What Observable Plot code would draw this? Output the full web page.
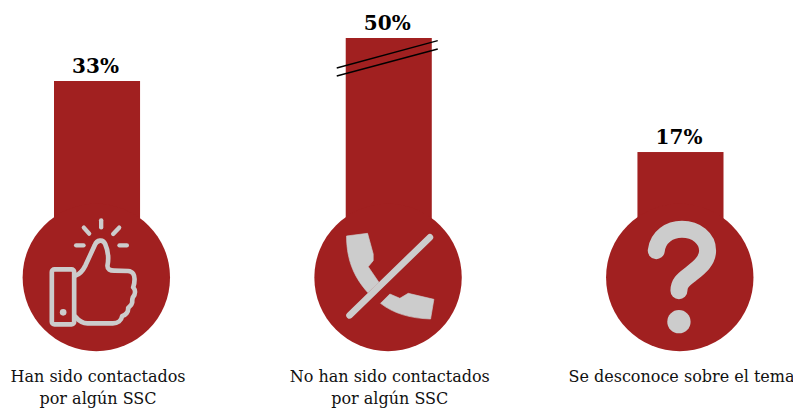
<!DOCTYPE html>
<html lang="es">
<head>
<meta charset="utf-8">
<script src="https://cdn.jsdelivr.net/npm/d3@7"></script>
<script src="https://cdn.jsdelivr.net/npm/@observablehq/plot@0.6"></script>
<style>
  html, body { margin: 0; padding: 0; background: #fff; overflow: hidden; }
  svg { display: block; }
</style>
</head>
<body>
<div id="chart"></div>
<script>
// Encuesta: contacto con los SSC
const categories = [
  "Han sido contactados\npor algún SSC",
  "No han sido contactados\npor algún SSC",
  "Se desconoce sobre el tema"
];
const shares = [33, 50, 17];
const shareLabels = ["33%", "50%", "17%"];
const iconNames = ["thumb", "phone", "question"];

const rows = categories.map((category, i) => ({
  category,
  share: shares[i],
  shareLabel: shareLabels[i],
  icon: iconNames[i]
}));

const RED = "#a12020";
const GREY = "#cccccc";
const SERIF = "'DejaVu Serif', serif";

// Glyphs are authored on a 3x grid around the origin (the disc centre).
const glyphs = {
  thumb: {
    origin: [287, 261],
    parts: [
      {rect: [155, 238, 67, 165], rx: 8, stroke: 14},
      {circle: [189, 367, 10]},
      {d: "M226,257 C240,252 248,242 256,226 L284,165 C290,150 308,146 315,162 C324,182 326,205 322,226 C321,238 330,242 342,242 L384,243 C398,244 404,256 403,270 C403,282 400,288 399,292 C406,300 407,312 398,322 C396,326 396,332 396,338 C394,348 386,350 384,354 C385,366 376,376 366,378 C364,392 352,400 338,400 L262,400 C248,400 236,392 226,380", stroke: 14},
      {d: "M228,166 L250,166", stroke: 13},
      {d: "M251,113 L267,131", stroke: 13},
      {d: "M303,91 L303,112", stroke: 13},
      {d: "M339,132 L357,113", stroke: 13},
      {d: "M358,166 L380,166", stroke: 13}
    ]
  },
  phone: {
    origin: [263, 231],
    parts: [
      {fill: "M140,108 L203,100 L220,162 L220,182 L205,200 L237,247 L204,278 C170,240 140,190 140,108 Z"},
      {fill: "M242,310 L270,282 L300,295 L325,280 L402,298 L392,357 C330,355 280,340 242,310 Z"},
      {d: "M149,346 L390,112", stroke: 20}
    ]
  },
  question: {
    origin: [269, 471],
    parts: [
      {d: "M200,392 C205,350 240,328 277,328 C320,328 354,355 354,392 C354,425 325,445 300,465 C280,480 268,490 268,512", stroke: 51},
      {circle: [268, 605, 35]}
    ]
  }
};

// Custom mark: puts each glyph on its disc, positioned through the plot's scales.
function iconMark(discOffset) {
  return (index, {x, y}) => {
    const g = d3.create("svg:g");
    rows.forEach((row) => {
      const glyph = glyphs[row.icon];
      const cx = x(row.category) + x.bandwidth() / 2 - 1.2;
      const cy = y(0) + discOffset;
      const group = g.append("g")
        .attr("transform", `translate(${cx},${cy}) scale(${1 / 3}) translate(${-glyph.origin[0]},${-glyph.origin[1]})`);
      glyph.parts.forEach((part) => {
        if (part.rect) {
          const [rx0, ry0, w, h] = part.rect;
          group.append("rect").attr("x", rx0).attr("y", ry0).attr("width", w).attr("height", h)
            .attr("rx", part.rx).attr("fill", "none").attr("stroke", GREY).attr("stroke-width", part.stroke);
        } else if (part.circle) {
          const [c0, c1, r] = part.circle;
          group.append("circle").attr("cx", c0).attr("cy", c1).attr("r", r).attr("fill", GREY);
        } else if (part.fill) {
          group.append("path").attr("d", part.fill).attr("fill", GREY).attr("stroke", GREY)
            .attr("stroke-width", 2).attr("stroke-linejoin", "round");
        } else {
          group.append("path").attr("d", part.d).attr("fill", "none").attr("stroke", GREY)
            .attr("stroke-width", part.stroke).attr("stroke-linecap", "round").attr("stroke-linejoin", "round");
        }
      });
    });
    return g.node();
  };
}

// Double slash on the tallest column, marking its interrupted axis.
function breakMark() {
  return (index, {x, y}) => {
    const g = d3.create("svg:g");
    const tallest = rows.find((r) => r.share === d3.max(shares));
    const cx = x(tallest.category) + x.bandwidth() / 2;
    const top = y(tallest.share);
    [[30, 2.6], [38, 11]].forEach(([left, right]) => {
      g.append("line")
        .attr("x1", cx - 52).attr("y1", top + left)
        .attr("x2", cx + 49).attr("y2", top + right)
        .attr("stroke", "#000").attr("stroke-width", 1.3);
    });
    return g.node();
  };
}

const DISC_OFFSET = 49.5;

const chart = Plot.plot({
  width: 793,
  height: 410,
  margin: 0,
  style: {background: "#fff", overflow: "visible"},
  x: {
    type: "band",
    domain: categories,
    range: [54, 723.5],
    round: false,
    paddingInner: 0.705,
    paddingOuter: 0,
    axis: null
  },
  // The scale is compressed above 33 to reflect the broken column.
  y: {
    type: "linear",
    domain: [0, 33, 50],
    range: [227.5, 81, 38],
    axis: null
  },
  marks: [
    Plot.barY(rows, {x: "category", y: "share", fill: RED}),
    Plot.dot(rows, {x: "category", y: () => 0, r: 73.7, fill: RED, dy: DISC_OFFSET, dx: -1.2}),
    iconMark(DISC_OFFSET),
    breakMark(),
    Plot.text(rows, {
      x: "category", y: "share", text: "shareLabel",
      dy: -9, dx: -2, lineAnchor: "bottom",
      fontFamily: SERIF, fontWeight: 700, fontSize: 20, fill: "#000"
    }),
    Plot.text(rows, {
      x: "category", y: () => 0, text: "category",
      dy: 138, dx: 0.5, lineAnchor: "top", lineHeight: 1.4,
      fontFamily: SERIF, fontSize: 16, fill: "#111"
    })
  ]
});

document.getElementById("chart").append(chart);
</script>
</body>
</html>
